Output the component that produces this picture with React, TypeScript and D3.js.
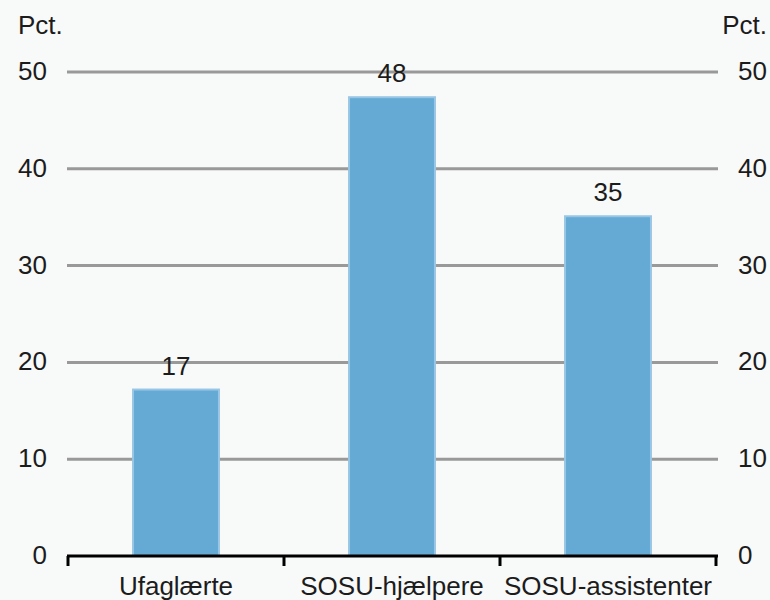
import React from "react";
import * as d3 from "d3";

const categories = ["Ufaglærte", "SOSU-hjælpere", "SOSU-assistenter"];
const values = [17.3, 47.5, 35.2];
const valueLabels = ["17", "48", "35"];
const yTicks = [0, 10, 20, 30, 40, 50];
const unitLabel = "Pct.";

const W = 770;
const H = 600;
const left = 68;
const right = 716;
const top = 72;
const bottom = 556;
const font = "'Liberation Sans', Arial, sans-serif";
const textColor = "#1c1c1c";
const fs = 26;

export default function App() {
  const x = d3
    .scaleBand<string>()
    .domain(categories)
    .range([left, right])
    .paddingInner(0.593)
    .paddingOuter(0.2965);
  const y = d3.scaleLinear().domain([0, 50]).range([bottom, top]);
  const step = x.step();
  const boundaries = d3.range(categories.length + 1).map((i) => left + i * step);

  return (
    <svg
      width={W}
      height={H}
      style={{ position: "fixed", left: 0, top: 0 }}
      fontFamily={font}
    >
      <rect x={0} y={0} width={W} height={H} fill="#f8f9f9" />
      {yTicks
        .filter((t) => t > 0)
        .map((t) => (
          <line
            key={"g" + t}
            x1={left - 1}
            x2={right + 2}
            y1={y(t)}
            y2={y(t)}
            stroke="#999999"
            strokeWidth={3}
          />
        ))}
      {categories.map((c, i) => (
        <g key={c}>
          <rect
            x={x(c)! + 1}
            y={y(values[i]) + 1}
            width={x.bandwidth() - 2}
            height={y(0) - y(values[i]) - 1}
            fill="#64aad5"
            stroke="#98c6e4"
            strokeWidth={2}
          />
          <text
            x={x(c)! + x.bandwidth() / 2}
            y={y(values[i]) - 14}
            textAnchor="middle"
            fontSize={fs}
            fill={textColor}
          >
            {valueLabels[i]}
          </text>
          <text
            x={x(c)! + x.bandwidth() / 2}
            y={595}
            textAnchor="middle"
            fontSize={fs}
            fill={textColor}
          >
            {c}
          </text>
        </g>
      ))}
      <line x1={left - 1} x2={right + 2} y1={y(0)} y2={y(0)} stroke="#000" strokeWidth={3} />
      {boundaries.map((b, i) => (
        <line key={"t" + i} x1={b} x2={b} y1={y(0)} y2={y(0) + 10} stroke="#000" strokeWidth={3} />
      ))}
      {yTicks.map((t) => (
        <g key={"l" + t}>
          <text x={47} y={y(t) + 8} textAnchor="end" fontSize={fs} fill={textColor}>
            {t}
          </text>
          <text x={738} y={y(t) + 8} textAnchor="start" fontSize={fs} fill={textColor}>
            {t}
          </text>
        </g>
      ))}
      <text x={18} y={34} fontSize={fs} fill={textColor}>
        {unitLabel}
      </text>
      <text x={767} y={34} textAnchor="end" fontSize={fs} fill={textColor}>
        {unitLabel}
      </text>
    </svg>
  );
}
